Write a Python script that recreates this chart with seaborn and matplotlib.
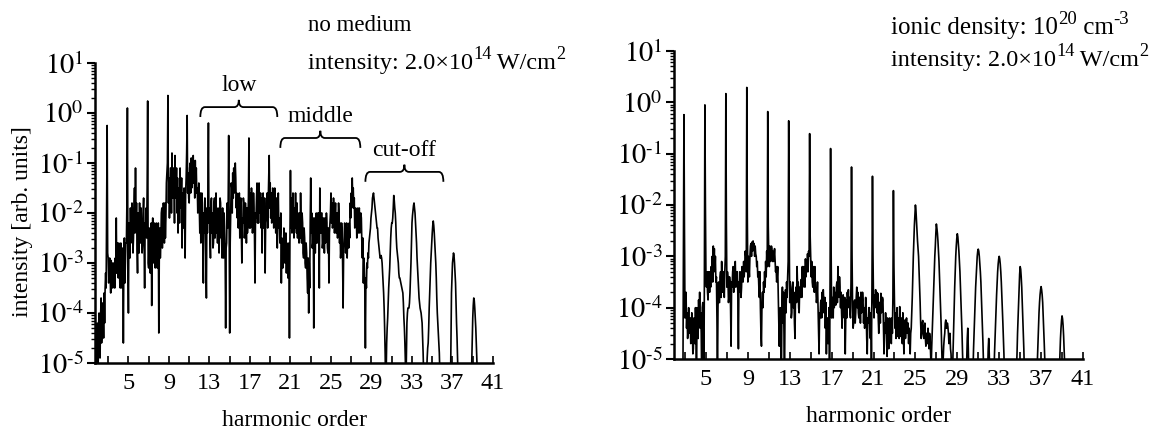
import numpy as np
import matplotlib
matplotlib.use("Agg")
import matplotlib.pyplot as plt
from matplotlib.path import Path
from matplotlib.patches import PathPatch
from matplotlib.transforms import blended_transform_factory
import seaborn as sns

# ---------------------------------------------------------------------------
# Harmonic spectra as log10(intensity).  Each 0.1-wide bin of harmonic order
# holds two samples: one at the bin start ("a") and one half a bin later ("b"),
# which captures the fast oscillation of the noisy background.
# Values below 1e-5 lie under the axis floor and are clipped.
# ---------------------------------------------------------------------------
BIN = 0.1

# no medium, first bin at harmonic order 1.8
vacuum_start = 1.8
vacuum_a = [
    -4.7, -4.2, -5.3, -4.0, -4.9, -3.7, -4.4, -3.9, -3.6, -3.5,
    -3.5, -0.25, -2.9, -3.1, -3.3, -2.95, -3.0, -3.4, -3.1, -2.9,
    -2.1, -2.6, -3.3, -2.7, -3.5, -2.8, -3.2, -4.6, -2.5, -3.0,
    -2.6, 0.1, -4.0, -2.4, -1.9, -2.3, -2.0, -2.5, -1.5, -1.1,
    -1.8, -3.2, -2.2, -1.8, -2.6, -2.3, -2.6, -1.7, -3.5, -2.4,
    -2.5, 0.24, -3.1, -2.7, -2.6, -3.85, -2.1, -2.8, -2.4, -2.9,
    -2.5, -3.0, -4.4, -2.3, -2.6, -1.9, -2.3, -2.0, -1.8, -2.1,
    -1.2, 0.35, -1.3, -1.6, -1.1, -0.8, -1.7, -1.3, -0.85, -1.6,
    -2.0, -2.4, -1.5, -1.1, -1.9, -2.7, -1.6, -1.5, -2.9, -1.3,
    -0.05, -1.2, -1.8, -1.0, -0.9, -1.3, -0.85, -1.2, -0.95, -1.1,
    -1.5, -1.7, -1.9, -1.6, -2.3, -1.8, -3.4, -2.4, -2.2, -3.7,
    -2.4, -0.2, -1.9, -2.9, -1.7, -2.0, -2.6, -1.7, -2.1, -2.4,
    -2.6, -2.0, -2.4, -1.8, -2.2, -1.9, -2.9, -2.3, -4.3, -2.6,
    -2.3, -0.45, -4.4, -2.0, -1.5, -1.2, -1.1, -1.4, -1.3, -1.6,
    -1.7, -2.0, -2.5, -1.7, -3.0, -2.2, -1.8, -2.3, -2.1, -1.9,
    -2.2, -0.5, -1.6, -2.0, -1.7, -2.2, -1.9, -3.4, -2.1, -1.4,
    -1.5, -1.4, -1.9, -2.3, -2.8, -1.6, -2.0, -3.2, -2.1, -1.6,
    -1.8, -0.85, -1.4, -1.6, -1.9, -1.7, -1.8, -2.0, -1.7, -2.7,
    -1.6, -2.1, -2.4, -3.4, -2.6, -2.9, -2.5, -2.9, -3.2, -2.8,
    -3.1, -4.5, -1.15, -1.7, -2.0, -2.2, -1.9, -1.6, -2.4, -2.5,
    -2.1, -2.0, -1.6, -2.6, -2.2, -2.9, -2.5, -3.1, -2.8, -3.6,
    -4.0, -3.5, -1.3, -2.0, -2.6, -4.3, -2.1, -2.3, -2.6, -2.0,
    -2.0, -1.5, -2.4, -2.0, -2.6, -2.3, -2.1, -2.5, -2.2, -2.8,
    -3.4, -2.2, -1.6, -1.8, -2.2, -1.9, -2.1, -2.4, -2.0, -2.2,
    -2.0, -2.2, -2.7, -2.4, -3.9, -2.5, -2.3, -2.6, -2.9, -2.3,
    -2.2, -1.8, -1.6, -1.3, -1.5, -1.7, -2.2, -2.0, -2.3, -2.4,
    -1.9, -2.3, -2.1, -2.9, -3.4, -3.1, -4.7, -3.5, -3.1, -2.9,
    -2.5, -2.3, -2.0, -1.7, -1.6, -1.8, -2.0, -2.2, -2.3, -2.6,
    -2.8, -2.9, -2.9, -3.2, -3.6, -4.3, -5.5, -4.6, -4.1, -3.5,
    -3.1, -2.5, -2.2, -2.1, -1.65, -1.9, -2.2, -2.7, -2.9, -3.2,
    -3.3, -3.4, -3.5, -3.6, -4.1, -4.6, -5.5, -4.2, -3.9, -3.9,
    -3.6, -3.0, -2.2, -1.95, -1.8, -2.0, -2.4, -2.9, -3.3, -3.7,
    -3.9, -4.0, -4.2, -4.8, -5.5, -5.5, -5.5, -4.9, -4.6, -3.9,
    -3.3, -2.8, -2.4, -2.16, -2.4, -2.8, -3.3, -4.0, -4.4, -4.8,
    -5.5, -5.5, -5.5, -5.5, -5.5, -5.5, -5.5, -5.5, -5.5, -5.5,
    -5.5, -3.6, -3.0, -2.8, -3.0, -3.4, -4.2, -4.9, -5.5, -5.5,
    -5.5, -5.5, -5.5, -5.5, -5.5, -5.5, -5.5, -5.5, -5.5, -5.5,
    -5.5, -5.0, -4.1, -3.7, -3.9, -4.3, -4.9, -5.5, -5.5, -5.5,
]
vacuum_b = [
    -5.3, -4.9, -4.3, -4.8, -4.1, -4.6, -3.8, -4.5, -4.2, -3.2,
    -2.0, -2.8, -3.4, -2.9, -3.6, -3.3, -3.5, -3.0, -3.5, -3.2,
    -3.2, -3.0, -2.6, -3.4, -2.6, -3.5, -2.7, -2.9, -3.4, -2.6,
    -1.8, -3.0, -2.2, -2.9, -2.6, -1.8, -2.8, -1.9, -2.4, -2.3,
    -2.7, -2.0, -2.8, -2.5, -1.9, -2.8, -2.0, -2.7, -2.2, -1.9,
    -1.5, -3.0, -2.3, -3.2, -2.2, -2.6, -3.0, -2.2, -3.1, -2.2,
    -3.1, -2.2, -2.8, -2.9, -2.0, -2.7, -1.8, -2.6, -2.5, -1.4,
    -1.0, -1.8, -2.1, -1.1, -2.0, -1.6, -1.1, -2.2, -1.7, -1.1,
    -1.3, -1.6, -2.2, -1.8, -1.3, -1.7, -2.3, -2.1, -1.6, -0.8,
    -1.6, -1.7, -1.1, -1.6, -1.5, -0.9, -1.4, -1.7, -1.5, -1.6,
    -2.0, -1.4, -2.4, -2.6, -1.6, -2.7, -2.0, -1.7, -2.9, -1.9,
    -1.6, -2.2, -2.5, -1.8, -2.4, -2.7, -1.8, -2.5, -1.6, -2.0,
    -1.9, -2.8, -1.7, -2.5, -2.9, -2.4, -2.0, -2.8, -2.7, -1.8,
    -1.8, -2.6, -2.6, -1.4, -2.0, -1.7, -1.6, -1.0, -1.9, -2.1,
    -2.3, -1.6, -1.9, -2.4, -2.1, -1.7, -2.5, -1.8, -2.6, -2.4,
    -1.7, -2.3, -2.3, -1.5, -2.4, -1.6, -2.5, -2.0, -1.7, -2.2,
    -2.2, -2.0, -1.6, -1.7, -2.0, -2.3, -1.7, -2.2, -1.8, -2.3,
    -1.4, -1.9, -2.1, -2.2, -1.5, -2.3, -1.5, -2.4, -2.2, -1.9,
    -2.3, -2.6, -2.0, -2.5, -3.1, -2.3, -3.0, -2.4, -2.6, -3.3,
    -2.6, -2.5, -2.3, -2.4, -1.6, -2.5, -2.3, -2.2, -1.8, -2.0,
    -2.6, -2.5, -2.2, -2.0, -2.8, -2.3, -3.0, -2.6, -3.3, -2.9,
    -3.0, -2.2, -2.4, -2.7, -2.1, -2.6, -2.8, -2.0, -2.2, -2.6,
    -3.5, -2.3, -2.0, -2.7, -2.1, -2.8, -2.6, -2.0, -2.7, -2.3,
    -2.4, -2.0, -2.2, -2.3, -1.7, -2.4, -1.8, -2.0, -2.5, -1.8,
    -2.6, -2.9, -2.2, -3.0, -2.8, -2.2, -2.8, -2.2, -2.4, -2.7,
    -2.5, -2.1, -1.9, -1.7, -1.9, -2.3, -1.9, -2.5, -1.9, -2.0,
    -2.4, -2.0, -2.6, -2.5, -2.9, -3.6, -3.3, -3.0, -2.8, -2.6,
    -2.4, -2.1, -1.9, -1.65, -1.7, -1.9, -2.1, -2.3, -2.5, -2.7,
    -2.9, -2.85, -3.0, -3.4, -3.9, -4.8, -5.2, -4.3, -3.8, -3.3,
    -2.8, -2.3, -2.2, -1.9, -1.75, -2.0, -2.5, -2.8, -3.0, -3.3,
    -3.35, -3.45, -3.55, -3.8, -4.3, -5.0, -4.8, -4.0, -3.9, -3.8,
    -3.3, -2.6, -2.05, -1.85, -1.9, -2.2, -2.6, -3.1, -3.5, -3.8,
    -3.95, -4.1, -4.5, -5.2, -5.5, -5.5, -5.2, -4.7, -4.3, -3.6,
    -3.0, -2.6, -2.25, -2.25, -2.6, -3.0, -3.7, -4.2, -4.6, -5.2,
    -5.5, -5.5, -5.5, -5.5, -5.5, -5.5, -5.5, -5.5, -5.5, -5.5,
    -4.5, -3.3, -2.9, -2.85, -3.2, -3.8, -4.5, -5.3, -5.5, -5.5,
    -5.5, -5.5, -5.5, -5.5, -5.5, -5.5, -5.5, -5.5, -5.5, -5.5,
    -5.3, -4.5, -3.85, -3.75, -4.1, -4.6, -5.2, -5.5, -5.5, -5.5,
]

# ionic density 1e20 cm^-3, first bin at harmonic order 2.0
plasma_start = 2.0
plasma_a = [
    -6, -6, -6, -6, -6, -6, -6, -6, -5.5, -0.24,
    -4.2, -3.7, -4.1, -4.4, -4.5, -4.2, -4.6, -4.4, -4.8, -4.3,
    -4.0, -5.5, -4.2, -3.85, -3.7, -4.1, -5.5, -3.9, -5.5, -0.05,
    -3.4, -3.3, -3.85, -3.35, -3.3, -3.2, -3.0, -2.8, -2.85, -3.0,
    -3.4, -5.5, -3.5, -3.9, -3.3, -3.1, -3.7, -3.4, -3.3, 0.17,
    -3.6, -3.4, -3.8, -3.5, -4.75, -3.6, -3.2, -3.4, -3.1, -3.4,
    -3.3, -4.8, -3.7, -3.4, -3.6, -3.3, -3.1, -3.2, -3.0, 0.29,
    -3.5, -3.2, -3.0, -2.75, -2.72, -2.7, -2.75, -2.8, -3.0, -3.1,
    -3.3, -3.8, -4.0, -4.75, -3.7, -3.5, -3.3, -3.1, -2.9, -0.18,
    -3.0, -2.8, -2.95, -2.85, -2.9, -3.0, -3.1, -3.2, -3.4, -3.7,
    -4.75, -4.0, -5.5, -3.6, -3.7, -5.5, -3.65, -3.5, -3.4, -0.36,
    -3.9, -3.6, -4.1, -3.5, -3.7, -4.6, -3.6, -3.2, -3.5, -4.1,
    -3.8, -3.45, -3.2, -3.4, -3.3, -3.05, -3.1, -2.95, -2.9, -0.61,
    -3.0, -3.1, -3.6, -3.3, -3.2, -3.65, -3.8, -4.0, -4.9, -4.2,
    -3.85, -3.7, -3.65, -4.1, -4.4, -4.9, -4.2, -4.5, -5.5, -0.9,
    -4.2, -3.85, -3.6, -3.7, -3.95, -3.5, -3.2, -3.8, -3.6, -3.7,
    -4.4, -3.75, -4.2, -4.9, -3.85, -3.7, -3.65, -3.8, -4.2, -1.26,
    -4.0, -4.3, -3.85, -4.1, -3.6, -3.7, -4.2, -3.8, -3.7, -4.0,
    -3.85, -4.0, -4.2, -4.1, -4.9, -4.3, -4.0, -4.6, -5.0, -1.44,
    -3.9, -3.75, -3.65, -3.7, -3.72, -4.5, -3.9, -3.72, -4.0, -3.85,
    -4.9, -4.5, -4.3, -4.95, -4.4, -4.6, -4.3, -4.7, -4.5, -1.72,
    -3.9, -4.1, -4.3, -4.56, -4.2, -3.98, -4.56, -4.3, -4.1, -4.9,
    -4.24, -4.4, -4.5, -4.3, -4.4, -4.9, -4.4, -3.8, -3.0, -2.4,
    -2.0, -2.3, -2.7, -3.0, -3.6, -4.3, -4.5, -4.25, -4.6, -4.3,
    -4.75, -4.5, -4.4, -4.8, -4.6, -5.2, -4.5, -3.9, -3.3, -2.8,
    -2.37, -2.55, -2.9, -3.4, -4.0, -4.7, -5.5, -4.75, -4.5, -4.24,
    -4.4, -4.37, -4.7, -4.5, -4.9, -5.5, -4.8, -4.0, -3.3, -2.8,
    -2.56, -2.75, -3.1, -3.6, -4.2, -4.9, -5.5, -5.5, -5.5, -5.0,
    -4.4, -5.3, -6, -6, -6, -5.2, -4.5, -3.9, -3.4, -3.0,
    -2.86, -3.0, -3.3, -3.8, -4.4, -5.1, -6, -6, -6, -5.2,
    -4.6, -5.3, -6, -6, -6, -5.3, -4.6, -4.0, -3.5, -3.15,
    -3.0, -3.15, -3.5, -4.0, -4.6, -5.3, -6, -6, -6, -6,
    -6, -6, -6, -6, -6, -6, -5.5, -4.9, -4.2, -3.6,
    -3.2, -3.4, -3.9, -4.5, -5.2, -6, -6, -6, -6, -6,
    -6, -6, -6, -6, -6, -6, -5.3, -4.7, -4.1, -3.75,
    -3.59, -3.75, -4.15, -4.7, -5.3, -6, -6, -6, -6, -6,
    -6, -6, -6, -6, -6, -6, -6, -5.5, -4.9, -4.4,
    -4.16, -4.35, -4.8, -5.4, -6, -6, -6, -6, -6, -6,
]
plasma_b = [
    -6, -6, -6, -6, -6, -6, -6, -6, -3.0, -2.5,
    -3.9, -4.4, -4.6, -4.0, -4.2, -4.7, -4.1, -4.9, -4.2, -4.7,
    -4.6, -4.0, -4.6, -4.3, -4.4, -4.5, -4.0, -4.6, -3.5, -2.0,
    -3.6, -3.7, -3.3, -3.7, -3.6, -3.4, -3.5, -3.2, -3.3, -3.5,
    -4.2, -4.0, -3.9, -3.4, -3.8, -3.6, -3.3, -3.8, -3.0, -2.3,
    -3.3, -3.9, -3.4, -4.0, -3.5, -3.3, -3.7, -3.2, -3.6, -3.3,
    -3.8, -3.5, -3.3, -3.8, -3.2, -3.5, -3.4, -2.9, -3.3, -2.2,
    -3.0, -3.4, -2.8, -3.0, -2.9, -2.85, -3.0, -2.95, -3.2, -3.4,
    -3.6, -3.3, -4.5, -3.9, -4.0, -3.7, -3.6, -3.4, -3.2, -2.4,
    -3.2, -3.1, -2.8, -3.1, -3.1, -2.85, -3.3, -3.5, -3.2, -4.1,
    -4.2, -4.6, -4.0, -4.3, -4.5, -4.0, -4.1, -3.8, -3.1, -2.6,
    -3.5, -4.2, -3.7, -4.0, -4.3, -3.8, -3.9, -3.6, -4.0, -3.6,
    -3.5, -3.8, -3.6, -3.2, -3.6, -3.4, -3.3, -3.3, -3.0, -2.6,
    -3.4, -3.5, -3.2, -3.7, -3.6, -3.9, -3.5, -4.4, -4.1, -3.9,
    -4.2, -4.1, -3.9, -3.8, -3.9, -4.2, -4.7, -4.0, -3.5, -2.8,
    -3.8, -4.2, -4.0, -3.9, -3.6, -3.9, -3.7, -3.4, -4.0, -4.1,
    -3.9, -4.1, -3.8, -4.2, -4.2, -3.9, -4.0, -4.1, -3.5, -3.0,
    -4.4, -3.9, -4.3, -3.8, -4.0, -4.1, -3.8, -4.3, -4.1, -3.7,
    -4.3, -4.4, -3.8, -4.6, -4.2, -4.0, -4.5, -4.1, -3.6, -3.0,
    -4.2, -4.0, -3.9, -4.1, -4.2, -3.9, -4.3, -4.1, -3.8, -4.4,
    -4.3, -4.1, -4.7, -4.2, -4.8, -4.2, -4.6, -4.2, -3.8, -3.2,
    -4.4, -4.6, -4.0, -4.2, -4.6, -4.4, -4.2, -4.7, -4.5, -4.4,
    -4.6, -4.2, -4.3, -4.7, -4.6, -4.5, -4.1, -3.4, -2.7, -2.2,
    -2.1, -2.5, -2.85, -3.3, -3.9, -4.6, -4.3, -4.5, -4.4, -4.6,
    -4.5, -4.7, -4.6, -4.5, -4.9, -4.8, -4.2, -3.6, -3.0, -2.55,
    -2.45, -2.7, -3.1, -3.7, -4.3, -5.1, -5.0, -4.6, -4.3, -4.4,
    -4.3, -4.5, -4.6, -4.8, -5.2, -5.2, -4.4, -3.6, -3.0, -2.65,
    -2.62, -2.9, -3.3, -3.9, -4.5, -5.2, -5.5, -5.5, -5.3, -4.6,
    -4.8, -6, -6, -6, -5.6, -4.8, -4.2, -3.6, -3.2, -2.9,
    -2.9, -3.15, -3.5, -4.1, -4.7, -5.6, -6, -6, -5.6, -4.8,
    -4.9, -6, -6, -6, -5.7, -4.9, -4.3, -3.75, -3.3, -3.05,
    -3.05, -3.3, -3.75, -4.3, -4.9, -5.7, -6, -6, -6, -6,
    -6, -6, -6, -6, -6, -5.8, -5.2, -4.5, -3.9, -3.35,
    -3.25, -3.6, -4.2, -4.8, -5.6, -6, -6, -6, -6, -6,
    -6, -6, -6, -6, -6, -5.7, -5.0, -4.4, -3.9, -3.65,
    -3.65, -3.9, -4.4, -5.0, -5.7, -6, -6, -6, -6, -6,
    -6, -6, -6, -6, -6, -6, -5.8, -5.2, -4.6, -4.25,
    -4.22, -4.55, -5.1, -5.8, -6, -6, -6, -6, -6, -6,
]

x_ticks = [5, 9, 13, 17, 21, 25, 29, 33, 37, 41]
x_minor = [3, 7, 11, 15, 19, 23, 27, 31, 35, 39]
decades = [-5, -4, -3, -2, -1, 0, 1]
decade_labels = [r"$10^{\text{-}%d}$" % -d if d < 0 else r"$10^{%d}$" % d for d in decades]

regions = ["low", "middle", "cut-off"]
region_spans = [(12.1, 19.7), (20.0, 27.9), (28.4, 36.1)]
region_levels = [0.853, 0.750, 0.637]  # brace baseline, axes fraction

# ---------------------------------------------------------------------------
sns.set_theme(style="ticks")
plt.rcParams["font.family"] = ["Liberation Serif", "DejaVu Serif"]
plt.rcParams["mathtext.fontset"] = "stix"
for key in ("axes.edgecolor", "text.color", "axes.labelcolor",
            "xtick.color", "ytick.color"):
    plt.rcParams[key] = "black"
plt.rcParams["axes.linewidth"] = 1.8

W, H = 1159, 434
fig = plt.figure(figsize=(W / 100, H / 100), dpi=100)


def box(l, t, r, b):
    return [l / W, 1 - b / H, (r - l) / W, (b - t) / H]


ax_l = fig.add_axes(box(95, 63, 493, 363))
ax_r = fig.add_axes(box(674, 51, 1083, 359))


def spectrum(start, first, second):
    first = np.asarray(first, dtype=float)
    second = np.asarray(second, dtype=float)
    xs = start + BIN * np.arange(first.size)
    x = np.column_stack([xs, xs + BIN / 2]).ravel()
    logs = np.column_stack([first, second]).ravel()
    return x, 10.0 ** logs


def style_axes(ax, xmin):
    ax.set_yscale("log")
    ax.set_ylim(1e-5, 1e1)
    ax.set_xlim(xmin, 41)
    for s in ("top", "right"):
        ax.spines[s].set_visible(False)
    ax.set_xticks(x_ticks)
    ax.set_xticklabels([str(t) for t in x_ticks], fontsize=17.5)
    ax.set_xticks(x_minor, minor=True)
    ax.tick_params(axis="x", which="both", direction="in", length=5,
                   width=1.2, pad=7)
    ax.set_yticks([10.0 ** d for d in decades])
    ax.set_yticklabels(decade_labels, fontsize=20.5)
    ax.yaxis.set_minor_locator(matplotlib.ticker.LogLocator(base=10, subs=np.arange(2, 10)))
    ax.yaxis.set_minor_formatter(matplotlib.ticker.NullFormatter())
    ax.tick_params(axis="y", which="major", direction="out", length=6, width=1.5, pad=2)
    ax.tick_params(axis="y", which="minor", direction="out", length=3, width=1.0)
    ax.set_xlabel("harmonic order", fontsize=17, labelpad=12)
    ax.grid(False)
    ax.set_facecolor("white")


for ax, start, a, b, xmin in ((ax_l, vacuum_start, vacuum_a, vacuum_b, 1.7),
                              (ax_r, plasma_start, plasma_a, plasma_b, 1.95)):
    x, y = spectrum(start, a, b)
    sns.lineplot(x=x, y=y, ax=ax, color="black", linewidth=1.2,
                 estimator=None, sort=False)
    style_axes(ax, xmin)

ax_l.set_ylabel("intensity [arb. units]", fontsize=17)
ax_l.yaxis.set_label_coords(-0.155, 0.473)


def draw_brace(ax, x0, x1, y, depth=0.033, tip=0.024, r=0.45):
    trans = blended_transform_factory(ax.transData, ax.transAxes)
    xm = 0.5 * (x0 + x1)
    verts = [(x0, y - depth), (x0, y), (x0 + r, y),
             (xm - r, y), (xm, y), (xm, y + tip),
             (xm, y), (xm + r, y),
             (x1 - r, y), (x1, y), (x1, y - depth)]
    codes = [Path.MOVETO, Path.CURVE3, Path.CURVE3,
             Path.LINETO, Path.CURVE3, Path.CURVE3,
             Path.CURVE3, Path.CURVE3,
             Path.LINETO, Path.CURVE3, Path.CURVE3]
    ax.add_patch(PathPatch(Path(verts, codes), transform=trans, fill=False,
                           lw=1.3, edgecolor="black", clip_on=False))


for name, (x0, x1), lev in zip(regions, region_spans, region_levels):
    draw_brace(ax_l, x0, x1, lev)
    ax_l.text(0.5 * (x0 + x1), lev + 0.072, name, fontsize=17,
              ha="center", va="center",
              transform=blended_transform_factory(ax_l.transData, ax_l.transAxes))

# header lines built from plain and raised pieces so superscripts stay large
renderer = fig.canvas.get_renderer()


def header(x_px, y_px, pieces, size=16.5):
    x = x_px
    for text, raised in pieces:
        fs = size * 0.75 if raised else size
        dy = size * 0.55 if raised else 0.0
        t = fig.text(x / W, 1 - (y_px - dy) / H, text, fontsize=fs,
                     ha="left", va="baseline")
        x += t.get_window_extent(renderer).width


header(308, 31, [("no medium", False)], size=16.5)
header(308, 69, [("intensity: 2.0×10", False), ("14", True), (" W/cm", False), ("2", True)],
       size=17.5)
header(891, 34, [("ionic density: 10", False), ("20", True), (" cm", False), ("-3", True)],
       size=18)
header(891, 66, [("intensity: 2.0×10", False), ("14", True), (" W/cm", False), ("2", True)],
       size=17.5)

fig.savefig("out.png", dpi=100, facecolor="white")
